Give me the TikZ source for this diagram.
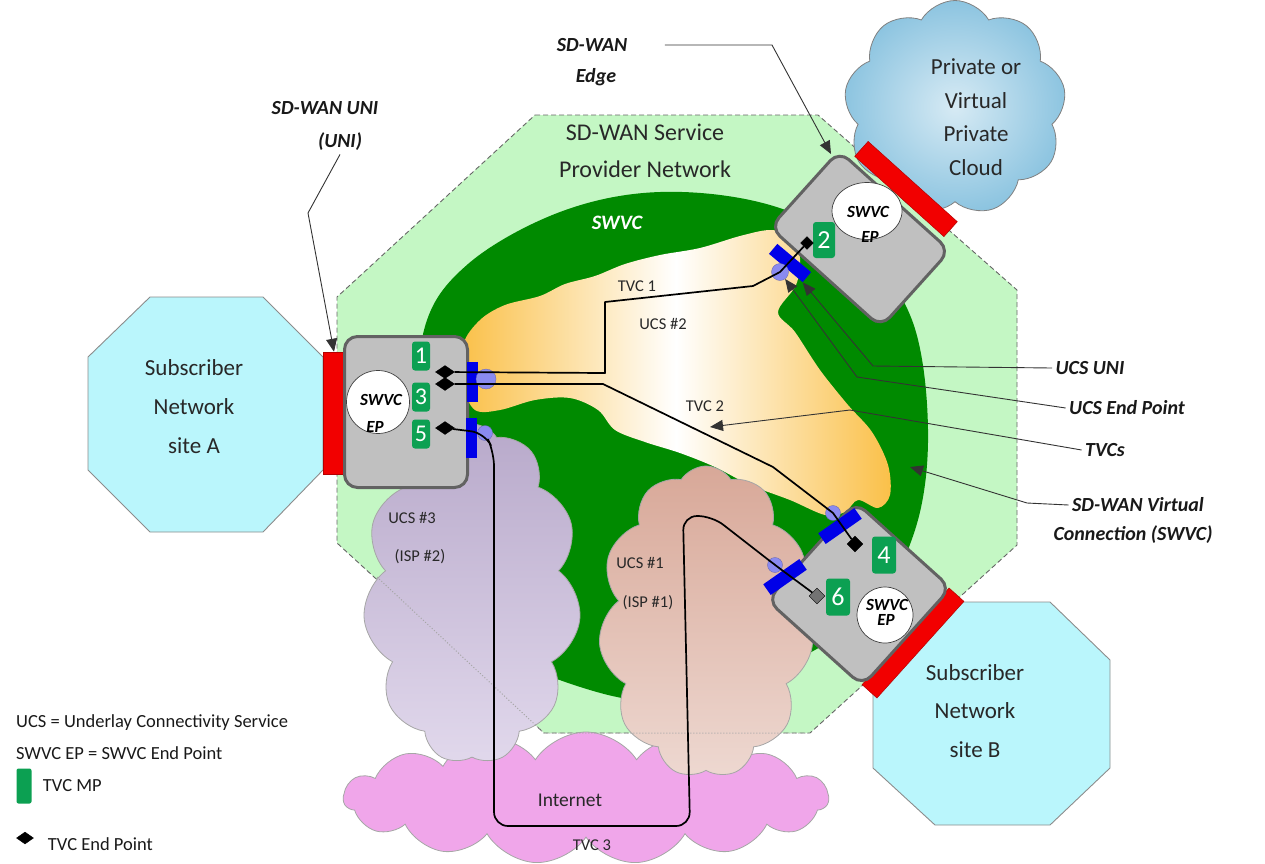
\documentclass[tikz,border=0pt]{standalone}
\usepackage{fontspec}
\setmainfont{Carlito}
\usepackage{tikz}
\usetikzlibrary{shapes.symbols,shapes.geometric,arrows.meta,positioning}

\definecolor{provgreen}{RGB}{196,247,196}
\definecolor{swvcgreen}{RGB}{0,138,0}
\definecolor{boxgray}{RGB}{192,192,192}
\definecolor{boxedge}{RGB}{98,98,98}
\definecolor{unired}{RGB}{242,0,0}
\definecolor{portblue}{RGB}{0,0,232}
\definecolor{eplav}{RGB}{138,138,240}
\definecolor{mpgreen}{RGB}{12,160,82}
\definecolor{sitecyan}{RGB}{186,246,252}
\definecolor{ucsorange}{RGB}{250,192,72}
\definecolor{netpink}{RGB}{240,166,234}
\definecolor{isppurple}{RGB}{200,184,220}
\definecolor{ispbrown}{RGB}{216,168,152}
\definecolor{cloudblue}{RGB}{140,196,224}
\definecolor{txtgray}{RGB}{40,40,40}

\tikzset{
  epbox/.style={draw=boxedge, line width=3pt, fill=boxgray, rounded corners=13pt},
  epcirc/.style={draw=black!75, line width=0.7pt, fill=white, inner sep=0pt},
  eptxt/.style={font=\bfseries\itshape\fontsize{17}{17}\selectfont, inner sep=0pt},
  mpbadge/.style={fill=mpgreen, rounded corners=3pt, text=white, inner sep=0pt,
    font=\fontsize{26}{26}\selectfont, minimum width=24pt, minimum height=37pt},
  tvcend/.style={diamond, fill=black, draw=black, line width=0.4pt, inner sep=0pt,
    minimum width=19pt, minimum height=13pt},
  ucsuni/.style={fill=portblue, inner sep=0pt, minimum width=44pt, minimum height=13pt},
  ucsep/.style={circle, fill=eplav, draw=eplav!70!black, line width=0.3pt,
    inner sep=0pt, minimum size=16pt},
  swuni/.style={fill=unired, draw=unired!75!black, line width=0.5pt, inner sep=0pt},
  isp/.style={cloud, cloud puffs=11, cloud puff arc=115, cloud ignores aspect,
    draw=black!35, line width=0.8pt, inner sep=0pt},
  tvc/.style={line width=1.7pt, black, line join=round},
  leader/.style={line width=0.9pt, black!80, -{Triangle[length=13pt,width=11pt]}},
  callout/.style={font=\bfseries\itshape\fontsize{20}{32}\selectfont, text=black!90},
  bigtxt/.style={font=\fontsize{23}{39}\selectfont, text=txtgray, align=center},
  smalltxt/.style={font=\fontsize{16.5}{20}\selectfont, text=txtgray},
  legend/.style={font=\fontsize{18.5}{22}\selectfont, text=black!90, inner sep=0pt, anchor=west},
}

\begin{document}
\begin{tikzpicture}[x=1pt, y=-1pt]
\useasboundingbox (0,0) rectangle (1265,863);

% provider network
\filldraw[fill=provgreen, draw=black!60, line width=0.9pt, dash pattern=on 5pt off 3pt]
  (535,115) -- (818,115) -- (1017,290) -- (1017,545) -- (810,733) -- (544,733)
  -- (337,543) -- (337,297) -- cycle;
\node[bigtxt, font=\fontsize{24}{37}\selectfont] (provLbl) at (645,151) {SD-WAN Service\\Provider Network};

% swvc area
\fill[swvcgreen] plot[smooth cycle, tension=0.6] coordinates {
  (424,330) (468,264) (560,212) (660,192) (770,205) (860,250) (912,320)
  (928,430) (915,530) (870,610) (780,668) (680,700) (590,690) (480,640)
  (430,560) (422,440)};
\node[white, font=\bfseries\itshape\fontsize{20.5}{20}\selectfont] (swvcTag) at (617,223) {SWVC};

% private cloud
\node[cloud, cloud puffs=9, cloud puff arc=120, cloud ignores aspect, minimum width=222pt,
  minimum height=215pt, inner color=cloudblue!35!white, outer color=cloudblue,
  draw=black!50, line width=0.8pt] (pvc) at (955,108) {};
\node[bigtxt, font=\fontsize{23}{33.5}\selectfont] (pvcTxt) at (976,117) {Private or\\Virtual\\Private\\Cloud};

% UCS #2
\shade[left color=ucsorange, right color=ucsorange, middle color=white]
  plot[smooth cycle, tension=0.55] coordinates {
  (463,345) (480,320) (505,305) (540,296) (565,284) (595,276) (625,264) (660,255)
  (700,248) (740,236) (770,230) (790,236) (800,258) (796,285) (778,312) (795,332)
  (820,370) (848,405) (872,432) (888,465) (890,495) (878,508) (858,500) (845,512)
  (825,515) (790,500) (750,485) (715,467) (680,453) (645,442) (615,430) (598,410)
  (570,398) (535,400) (500,410) (475,410) (463,385)};

% underlay clouds
\node[isp, cloud puffs=15, minimum width=485pt, minimum height=132pt, fill=netpink] (inet) at (586,798) {};
\node[isp, minimum width=218pt, minimum height=340pt, top color=isppurple!92!black,
  bottom color=isppurple!55!white] (ucs3) at (472,594) {};
\node[isp, minimum width=215pt, minimum height=312pt, top color=ispbrown,
  bottom color=ispbrown!45!white] (ucs1) at (706,622) {};
\draw[black!35, dotted, line width=1pt] (377,577) -- (544,733) -- (810,733);

% subscriber sites
\filldraw[fill=sitecyan, draw=black!45, line width=0.9pt] (150,297) -- (263,297) -- (323,357)
  -- (323,470) -- (263,532) -- (150,532) -- (88,470) -- (88,357) -- cycle;
\node[bigtxt] (siteA) at (194,407) {Subscriber\\Network\\site A};
\filldraw[fill=sitecyan, draw=black!45, line width=0.9pt] (935,602) -- (1050,602) -- (1110,660)
  -- (1110,768) -- (1050,825) -- (935,825) -- (873,768) -- (873,660) -- cycle;
\node[bigtxt, font=\fontsize{23}{38.5}\selectfont] (siteB) at (975,711) {Subscriber\\Network\\site B};

% SWVC EP at site A
\node[swuni, minimum width=22pt, minimum height=122pt] (swuniA) at (334,413) {};
\node[epbox, minimum width=123pt, minimum height=151pt] (epA) at (406,412) {};
\node[epcirc, circle, minimum size=63pt] (swvcA) at (378,402) {};
\node[eptxt] (swvcAa) at (381,400) {SWVC};
\node[eptxt] (swvcAb) at (375,427) {EP};
\node[mpbadge, minimum width=18pt, minimum height=29pt, font=\fontsize{24}{24}\selectfont] (mp1) at (421,356) {1};
\node[mpbadge, minimum width=18pt, minimum height=29pt, font=\fontsize{24}{24}\selectfont] (mp3) at (421,397) {3};
\node[mpbadge, minimum width=18pt, minimum height=29pt, font=\fontsize{24}{24}\selectfont] (mp5) at (421,434) {5};
\node[ucsuni, minimum width=11pt, minimum height=40pt] (uniA1) at (472,382) {};
\node[ucsuni, minimum width=11pt, minimum height=40pt] (uniA2) at (471,438) {};
\node[ucsep, minimum size=20pt] (ucsA1) at (486,379) {};
\node[ucsep, minimum size=15pt] (ucsA2) at (485,433) {};
\node[tvcend] (te1) at (445,372) {};
\node[tvcend] (te3) at (445,384) {};
\node[tvcend] (te5) at (445,428) {};

% SWVC EP at the cloud
\node[swuni, minimum width=120pt, minimum height=20pt, rotate=-42] (swuniC) at (906,189) {};
\node[epbox, minimum width=149pt, minimum height=103pt, rotate=-42] (epC) at (860,239) {};
\node[epcirc, ellipse, minimum width=70pt, minimum height=57pt] (swvcC) at (867,211) {};
\node[eptxt] (swvcCa) at (868,212) {SWVC};
\node[eptxt] (swvcCb) at (870,237) {EP};
\node[mpbadge, minimum width=22pt, minimum height=36pt] (mp2) at (824,240) {2};
\node[ucsuni, rotate=-40] (uniC) at (790,263) {};
\node[ucsep, minimum size=17pt] (ucsC) at (780,272) {};
\node[tvcend, minimum width=13pt, minimum height=13pt] (te2) at (807,243) {};

% SWVC EP at site B
\node[swuni, minimum width=130pt, minimum height=20pt, rotate=48] (swuniB) at (913,643) {};
\node[epbox, minimum width=128pt, minimum height=132pt, rotate=-42] (epB) at (859,594) {};
\node[epcirc, circle, minimum size=56pt] (swvcB) at (885,615) {};
\node[eptxt] (swvcBa) at (887,605) {SWVC};
\node[eptxt] (swvcBb) at (886,620) {EP};
\node[mpbadge] (mp4) at (884,555) {4};
\node[mpbadge] (mp6) at (838,597) {6};
\node[ucsuni, rotate=35] (uniB1) at (840,526) {};
\node[ucsuni, rotate=35] (uniB2) at (785,577) {};
\node[ucsep, minimum size=15pt] (ucsB1) at (833,513) {};
\node[ucsep, minimum size=15pt] (ucsB2) at (775,565) {};
\node[tvcend, minimum width=16pt, minimum height=16pt] (te4) at (855,544) {};
\node[tvcend, minimum width=16pt, minimum height=16pt, fill=black!55] (te6) at (817,596) {};

% TVCs
\draw[tvc] (te1) -- (605,373) -- (605,302) -- (753,286) -- (ucsC.center) -- (te2);
\draw[tvc] (te3) -- (603,384) -- (773,467) -- (ucsB1.center) -- (te4);
\draw[tvc, rounded corners=14pt] (te5) -- (ucsA2.center) -- (494,452) -- (494,826)
  -- (690,826) -- (683,516) -- (712,516) -- (ucsB2.center) -- (te6);

% texts in the clouds
\node[smalltxt] (tvc1Lbl) at (637,286) {TVC 1};
\node[smalltxt] (ucs2Lbl) at (663,324) {UCS \#2};
\node[smalltxt] (tvc2Lbl) at (705,406) {TVC 2};
\node[smalltxt] (ucs3Lbl) at (412,518) {UCS \#3};
\node[smalltxt] (isp2Lbl) at (420,557) {(ISP \#2)};
\node[smalltxt] (ucs1Lbl) at (640,563) {UCS \#1};
\node[smalltxt] (isp1Lbl) at (648,603) {(ISP \#1)};
\node[smalltxt, font=\fontsize{19.5}{20}\selectfont] (inetLbl) at (570,800) {Internet};
\node[smalltxt] (tvc3Lbl) at (592,845) {TVC 3};

% callouts
\node[callout] (uniLblA) at (325,108) {SD-WAN UNI};
\node[callout] (uniLblB) at (340,142) {(UNI)};
\node[callout] (edgeLblA) at (592,45) {SD-WAN};
\node[callout] (edgeLblB) at (596,77) {Edge};
\node[callout] (ucsuniLbl) at (1090,368) {UCS UNI};
\node[callout] (ucsepLbl) at (1127,408) {UCS End Point};
\node[callout] (tvcsLbl) at (1105,450) {TVCs};
\node[callout] (swvcLblA) at (1138,505) {SD-WAN Virtual};
\node[callout] (swvcLblB) at (1133,535) {Connection (SWVC)};

\coordinate (edgeTip) at (831,154);
\coordinate (tvcTip) at (710,427);
\coordinate (swvcTip) at (910,467);
\draw[leader] (uniLblB.south) -- (308,213) -- (swuniA.north);
\draw[leader] ([xshift=34pt]edgeLblA.east) -- (772,45) -- (edgeTip);
\draw[leader] (ucsuniLbl.west) -- (873,366) -- (uniC.south east);
\draw[leader] (ucsepLbl.west) -- (857,377) -- (ucsC);
\draw[leader] (tvcsLbl.west) -- (850,410) -- (tvcTip);
\draw[leader] (swvcLblA.west) -- (1027,503) -- (swvcTip);

% legend
\node[legend] (lgUCS) at (16,723) {UCS = Underlay Connectivity Service};
\node[legend] (lgEP) at (16,753) {SWVC EP = SWVC End Point};
\node[fill=mpgreen, rounded corners=2pt, minimum width=15pt, minimum height=35pt, inner sep=0pt] (lgMPbox) at (24,786) {};
\node[legend, right=11pt of lgMPbox] (lgMP) {TVC MP};
\node[tvcend, minimum width=17pt, minimum height=12pt] (lgTEmark) at (25,838) {};
\node[legend, right=14pt of lgTEmark, yshift=-6pt] (lgTE) {TVC End Point};
\end{tikzpicture}
\end{document}
